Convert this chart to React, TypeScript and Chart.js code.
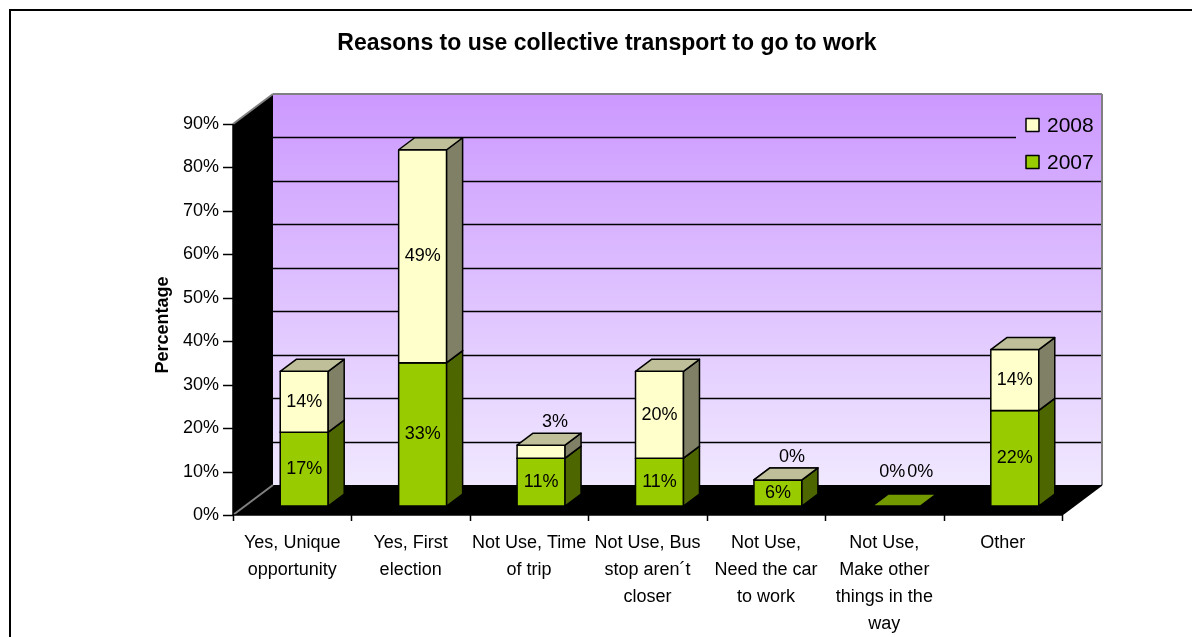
import React, { useEffect, useRef } from "react";
import { Chart, registerables } from "chart.js";

Chart.register(...registerables);

// ---------------- data ----------------
const chartTitle = "Reasons to use collective transport to go to work";
const yAxisTitle = "Percentage";
const categories: string[][] = [
  ["Yes, Unique", "opportunity"],
  ["Yes, First", "election"],
  ["Not Use, Time", "of trip"],
  ["Not Use, Bus", "stop aren\u00b4t", "closer"],
  ["Not Use,", "Need the car", "to work"],
  ["Not Use,", "Make other", "things in the", "way"],
  ["Other"],
];
const seriesNames = ["2007", "2008"];
const values2007 = [17, 33, 11, 11, 6, 0, 22];
const values2008 = [14, 49, 3, 20, 0, 0, 14];
const yTickValues = [0, 10, 20, 30, 40, 50, 60, 70, 80, 90];

// ---------------- styles ----------------
const FONT = '"Liberation Sans", Arial, Helvetica, sans-serif';
const frontColors = ["#99CC00", "#FFFFCC"];
const sideColors = ["#4D6600", "#808066"];
const topColors = ["#739900", "#BFBF99"];
const DX = 40; // wall depth
const DY = -30;
const BAR_OFF = 0.3; // bar front position in depth
const BAR_DEPTH = 0.4;

function poly(ctx: CanvasRenderingContext2D, pts: number[][], fill?: string | CanvasGradient, stroke?: string, lw = 1) {
  ctx.beginPath();
  ctx.moveTo(pts[0][0], pts[0][1]);
  for (let i = 1; i < pts.length; i++) ctx.lineTo(pts[i][0], pts[i][1]);
  ctx.closePath();
  if (fill) {
    ctx.fillStyle = fill;
    ctx.fill();
  }
  if (stroke) {
    ctx.strokeStyle = stroke;
    ctx.lineWidth = lw;
    ctx.stroke();
  }
}

function line(ctx: CanvasRenderingContext2D, x1: number, y1: number, x2: number, y2: number, color: string, lw: number) {
  ctx.beginPath();
  ctx.moveTo(x1, y1);
  ctx.lineTo(x2, y2);
  ctx.strokeStyle = color;
  ctx.lineWidth = lw;
  ctx.stroke();
}

let wallGradient: CanvasGradient | null = null;

const excel3d = {
  id: "excel3d",
  beforeDatasetsDraw(chart: any) {
    const { ctx, chartArea: ca, scales } = chart;
    const ys = scales.y;
    const L = ca.left, R = ca.right, T = ca.top, B = ca.bottom;
    ctx.save();
    // outer frame
    ctx.strokeStyle = "#000";
    ctx.lineWidth = 2;
    ctx.strokeRect(10, 10, chart.width + 40, chart.height + 40);

    // back wall
    const g = ctx.createLinearGradient(0, T + DY, 0, B + DY);
    g.addColorStop(0, "#CC99FF");
    g.addColorStop(1, "#F0E8FF");
    wallGradient = g;
    ctx.fillStyle = g;
    ctx.fillRect(L + DX, T + DY, R - L, B - T);
    // side wall
    poly(ctx, [[L, B], [L, T], [L + DX, T + DY], [L + DX, B + DY]], "#000");
    // floor
    poly(ctx, [[L, B], [R, B], [R + DX, B + DY], [L + DX, B + DY]], "#000");

    // gridlines on back wall
    for (const v of yTickValues) {
      if (v === 0 || v === ys.max) continue;
      const yy = Math.round(ys.getPixelForValue(v) + DY) + 0.5;
      line(ctx, L + DX, yy, R + DX, yy, "#000", 1.4);
    }
    // wall edges
    line(ctx, L, T, L + DX, T + DY, "#808080", 2);
    line(ctx, L + DX, T + DY, R + DX, T + DY, "#808080", 2);
    line(ctx, R + DX, T + DY, R + DX, B + DY, "#808080", 2);
    line(ctx, L, B, L + DX, B + DY, "#808080", 2);
    line(ctx, R, B, R + DX, B + DY, "#000", 1.5);

    // y axis line + tick marks
    line(ctx, L, T, L, B, "#000", 1.5);
    for (const v of yTickValues) {
      const yy = Math.round(ys.getPixelForValue(v)) + 0.5;
      line(ctx, L - 10, yy, L, yy, "#000", 1.5);
    }
    // x axis line + tick marks
    line(ctx, L, B, R, B, "#000", 1.5);
    const n = categories.length;
    for (let i = 0; i <= n; i++) {
      const xx = Math.round(L + (i * (R - L)) / n) + 0.5;
      line(ctx, xx, B, xx, B + 6, "#000", 1.5);
    }
    ctx.restore();
  },
  afterDatasetsDraw(chart: any) {
    const { ctx, chartArea: ca } = chart;
    const R = ca.right, T = ca.top;
    const ox = DX * BAR_OFF, oy = DY * BAR_OFF;
    const dx = DX * BAR_DEPTH, dy = DY * BAR_DEPTH;
    const metas = chart.data.datasets.map((_: any, i: number) => chart.getDatasetMeta(i));
    const nCat = categories.length;
    ctx.save();
    ctx.lineJoin = "round";
    const labels: { text: string; x: number; y: number }[] = [];
    for (let j = 0; j < nCat; j++) {
      let stackTop = 0;
      let cx = 0;
      const small: string[] = [];
      for (let i = 0; i < metas.length; i++) {
        const el = metas[i].data[j];
        const p = el.getProps(["x", "y", "base", "width"], true);
        const val = chart.data.datasets[i].data[j];
        const x0 = p.x - p.width / 2 + ox;
        const x1 = p.x + p.width / 2 + ox;
        const yt = p.y + oy;
        const yb = p.base + oy;
        cx = (x0 + x1) / 2;
        const below = i > 0 ? chart.data.datasets[i - 1].data[j] : 0;
        const drawTop = val > 0 || i === 0 || below > 0;
        if (val > 0) {
          ctx.fillStyle = frontColors[i];
          ctx.fillRect(x0, yt, x1 - x0, yb - yt);
          ctx.strokeStyle = "#000";
          ctx.lineWidth = 1.5;
          ctx.strokeRect(x0, yt, x1 - x0, yb - yt);
          poly(ctx, [[x1, yb], [x1, yt], [x1 + dx, yt + dy], [x1 + dx, yb + dy]], sideColors[i], "#000", 1.5);
        }
        if (drawTop) {
          poly(ctx, [[x0, yt], [x1, yt], [x1 + dx, yt + dy], [x0 + dx, yt + dy]], topColors[i], "#000", 1.5);
        }
        stackTop = yt;
        const txt = Math.round(val) + "%";
        if (val >= 5) labels.push({ text: txt, x: cx, y: (yt + yb) / 2 });
        else small.push(txt);
      }
      small.forEach((t, k) => {
        if (small.length === 1) labels.push({ text: t, x: cx + 14, y: stackTop - 23 });
        else labels.push({ text: t, x: cx - 4 + 28 * k, y: stackTop - 34 });
      });
    }
    ctx.fillStyle = "#000";
    ctx.font = `18px ${FONT}`;
    ctx.textAlign = "center";
    ctx.textBaseline = "middle";
    for (const lb of labels) ctx.fillText(lb.text, lb.x, lb.y);

    // legend
    const lgW = 86;
    const lgX = R + DX - lgW, lgY = T + DY + 10;
    ctx.fillStyle = wallGradient || "#CC99FF";
    ctx.fillRect(lgX, lgY, lgW - 1, 73);
    const order = [1, 0];
    order.forEach((di, k) => {
      const cy = lgY + 21 + k * 37;
      ctx.fillStyle = frontColors[di];
      ctx.fillRect(lgX + 10, cy - 6.5, 13, 13);
      ctx.strokeStyle = "#000";
      ctx.lineWidth = 1.5;
      ctx.strokeRect(lgX + 10, cy - 6.5, 13, 13);
      ctx.fillStyle = "#000";
      ctx.font = `21px ${FONT}`;
      ctx.textAlign = "left";
      ctx.textBaseline = "middle";
      ctx.fillText(seriesNames[di], lgX + 31, cy + 1);
    });

    // chart title
    ctx.fillStyle = "#000";
    ctx.font = `bold 23px ${FONT}`;
    ctx.textAlign = "center";
    ctx.textBaseline = "middle";
    ctx.fillText(chartTitle, 607, 44);

    // y axis title
    ctx.save();
    ctx.translate(163, 325);
    ctx.rotate(-Math.PI / 2);
    ctx.font = `bold 18px ${FONT}`;
    ctx.fillText(yAxisTitle, 0, 0);
    ctx.restore();

    ctx.restore();
  },
};

export default function App() {
  const ref = useRef<HTMLCanvasElement | null>(null);
  useEffect(() => {
    if (!ref.current) return;
    const chart = new Chart(ref.current, {
      type: "bar",
      data: {
        labels: categories,
        datasets: [
          { label: seriesNames[0], data: values2007, backgroundColor: "rgba(0,0,0,0)", borderWidth: 0, barPercentage: 0.405, categoryPercentage: 1 },
          { label: seriesNames[1], data: values2008, backgroundColor: "rgba(0,0,0,0)", borderWidth: 0, barPercentage: 0.405, categoryPercentage: 1 },
        ],
      },
      options: {
        responsive: false,
        animation: false,
        events: [],
        layout: { padding: { left: 233 - 60, right: 1192 - 1062, top: 124, bottom: 0 } },
        plugins: { legend: { display: false }, title: { display: false }, tooltip: { enabled: false } },
        scales: {
          x: {
            stacked: true,
            grid: { display: false, drawTicks: false },
            border: { display: false },
            ticks: {
              color: "#000",
              font: { family: FONT, size: 18, lineHeight: 1.5 },
              padding: 14.5,
              maxRotation: 0,
              minRotation: 0,
              autoSkip: false,
            },
            afterFit: (s: any) => {
              s.height = 637 - 515;
            },
          },
          y: {
            stacked: true,
            min: 0,
            max: 90,
            grid: { display: false, drawTicks: false },
            border: { display: false },
            ticks: {
              stepSize: 10,
              color: "#000",
              font: { family: FONT, size: 18 },
              padding: 14,
              callback: (v: any) => v + "%",
            },
            afterFit: (s: any) => {
              s.width = 60;
            },
          },
        },
      },
      plugins: [excel3d],
    } as any);
    return () => chart.destroy();
  }, []);
  return (
    <div style={{ position: "fixed", left: 0, top: 0, width: 1192, height: 637, background: "#fff" }}>
      <canvas ref={ref} width={1192} height={637} style={{ width: 1192, height: 637, display: "block" }} />
    </div>
  );
}
